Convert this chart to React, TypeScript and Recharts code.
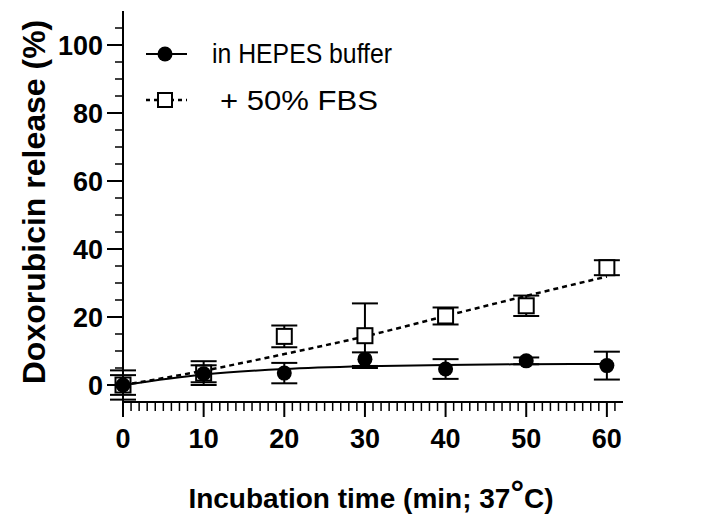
import React from "react";
import { ComposedChart, Line, XAxis, YAxis, ErrorBar } from "recharts";

const times = [0, 10, 20, 30, 40, 50, 60];
const hepes = [0, 3.3, 3.5, 7.6, 4.7, 7.1, 5.7];
const hepesErr = [2.9, 2.5, 3.0, 2.0, 2.9, 1.0, 4.1];
const fbs = [0, 3.5, 14.3, 14.5, 20.3, 23.3, 34.5];
const fbsErr = [4.3, 3.5, 3.2, 9.5, 2.5, 3.0, 2.2];
// fitted curves at the same times
const hepesFit = [0, 3.1, 4.7, 5.5, 5.9, 6.1, 6.2];
const fbsFit = [0, 4.2, 9.1, 14.3, 20.3, 26.2, 31.9];

const xMajor = [0, 10, 20, 30, 40, 50, 60];
const yMajor = [0, 20, 40, 60, 80, 100];
const xTicks = Array.from({ length: 62 }, (_, i) => i);
const yTicks = [-5, ...Array.from({ length: 22 }, (_, i) => i * 5)];

const data = times.map((t, i) => ({
  t,
  hepes: hepes[i],
  hepesErr: hepesErr[i],
  fbs: fbs[i],
  fbsErr: fbsErr[i],
  hepesFit: hepesFit[i],
  fbsFit: fbsFit[i],
}));

const FONT = "'Liberation Sans', Arial, Helvetica, sans-serif";

function XTick(props: any) {
  const { x, y, payload } = props;
  const major = xMajor.includes(payload.value);
  return (
    <g>
      <line x1={x} x2={x} y1={y} y2={y + (major ? 15 : 9)} stroke="#000" strokeWidth={major ? 2 : 1.5} />
      {major && (
        <text x={x} y={y + 46} textAnchor="middle" fontFamily={FONT} fontWeight="bold" fontSize={27} fill="#000">
          {payload.value}
        </text>
      )}
    </g>
  );
}

function YTick(props: any) {
  const { x, y, payload } = props;
  // the axis runs a little past the x axis at the bottom
  if (payload.value === -5) {
    return <line x1={x} x2={x} y1={y} y2={y + 12} stroke="#000" strokeWidth={2} />;
  }
  const major = yMajor.includes(payload.value);
  return (
    <g>
      <line x1={x - (major ? 16 : 8)} x2={x} y1={y} y2={y} stroke="#000" strokeWidth={major ? 2 : 1.5} />
      {major && (
        <text x={x - 20} y={y + 10} textAnchor="end" fontFamily={FONT} fontWeight="bold" fontSize={27} fill="#000">
          {payload.value}
        </text>
      )}
    </g>
  );
}

function Circle(props: any) {
  const { cx, cy, index } = props;
  if (cx == null || cy == null) return <g key={index} />;
  return <circle key={index} cx={cx} cy={cy} r={7.5} fill="#000" />;
}

function Square(props: any) {
  const { cx, cy, index } = props;
  if (cx == null || cy == null) return <g key={index} />;
  return <rect key={index} x={cx - 7.5} y={cy - 7.5} width={15} height={15} fill="#fff" stroke="#000" strokeWidth={2} />;
}

function LegendBox() {
  return (
    <svg width={290} height={100} style={{ display: "block" }}>
      <line x1={6} x2={47} y1={29} y2={29} stroke="#000" strokeWidth={2} />
      <circle cx={25} cy={29} r={7.5} fill="#000" />
      <text x={72} y={38} fontFamily={FONT} fontSize={27} fill="#000" textLength={180} lengthAdjust="spacingAndGlyphs">
        in HEPES buffer
      </text>
      <line x1={6} x2={47} y1={75} y2={75} stroke="#000" strokeWidth={2.5} strokeDasharray="4 4" />
      <rect x={18} y={68} width={14} height={14} fill="#fff" stroke="#000" strokeWidth={2} />
      <text x={80} y={85} fontFamily={FONT} fontSize={28} fill="#000" textLength={158} lengthAdjust="spacingAndGlyphs">
        + 50% FBS
      </text>
    </svg>
  );
}

export default function App() {
  return (
    <div style={{ position: "absolute", left: 0, top: 0, width: 705, height: 514, background: "#fff" }}>
      <ComposedChart width={705} height={514} data={data} margin={{ top: 11, right: 82, bottom: 0, left: 0 }}>
        <XAxis
          dataKey="t"
          type="number"
          domain={[0, 62]}
          ticks={xTicks}
          interval={0}
          tickSize={0}
          tickMargin={0}
          tickLine={false}
          tick={<XTick />}
          height={112}
          axisLine={{ stroke: "#000", strokeWidth: 2 }}
          label={{
            position: "insideBottom",
            content: () => (
              <text x={371} y={508} textAnchor="middle" fontFamily={FONT} fontWeight="bold" fontSize={28} fill="#000">
                Incubation time (min; 37
                <tspan fontSize={34} dy={-4}>°</tspan>
                <tspan dy={4}>C)</tspan>
              </text>
            ),
          }}
        />
        <YAxis
          type="number"
          domain={[-5, 110]}
          ticks={yTicks}
          interval={0}
          tickSize={0}
          tickMargin={0}
          tickLine={false}
          tick={<YTick />}
          width={123}
          axisLine={{ stroke: "#000", strokeWidth: 2 }}
          label={{
            position: "insideLeft",
            content: () => (
              <text
                x={34}
                y={202}
                transform="rotate(-90 34 202)"
                textAnchor="middle"
                dominantBaseline="central"
                fontFamily={FONT}
                fontWeight="bold"
                fontSize={32}
                fill="#000"
              >
                Doxorubicin release (%)
              </text>
            ),
          }}
        />
        <Line dataKey="hepesFit" type="monotone" stroke="#000" strokeWidth={2} dot={false} activeDot={false} isAnimationActive={false} />
        <Line
          dataKey="fbsFit"
          type="monotone"
          stroke="#000"
          strokeWidth={2.5}
          strokeDasharray="5 4"
          dot={false}
          activeDot={false}
          isAnimationActive={false}
        />
        <Line dataKey="fbs" stroke="none" dot={<Square />} activeDot={false} isAnimationActive={false}>
          <ErrorBar dataKey="fbsErr" width={13} stroke="#000" strokeWidth={2} direction="y" />
        </Line>
        <Line dataKey="hepes" stroke="none" dot={<Circle />} activeDot={false} isAnimationActive={false}>
          <ErrorBar dataKey="hepesErr" width={13} stroke="#000" strokeWidth={2} direction="y" />
        </Line>
      </ComposedChart>
      <div style={{ position: "absolute", left: 140, top: 25 }}>
        <LegendBox />
      </div>
    </div>
  );
}
